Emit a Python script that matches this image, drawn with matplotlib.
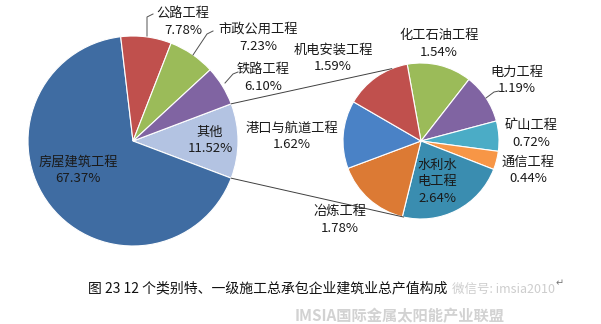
import numpy as np
import matplotlib.pyplot as plt

plt.rcParams['font.family'] = ['Noto Sans CJK SC', 'DejaVu Sans']

# 主饼图：各类别占比 (%)
main_names = ['其他', '房屋建筑工程', '公路工程', '市政公用工程', '铁路工程']
main_vals = [11.52, 67.37, 7.78, 7.23, 6.10]
main_colors = ['#b3c3e2', '#3f6ca2', '#c0504d', '#9bbb59', '#8064a2']

# 子饼图：“其他”的细分
sub_names = ['化工石油工程', '电力工程', '矿山工程', '通信工程',
             '水利水\n电工程', '冶炼工程', '港口与航道工程', '机电安装工程']
sub_vals = [1.54, 1.19, 0.72, 0.44, 2.64, 1.78, 1.62, 1.59]
sub_colors = ['#9bbb59', '#8064a2', '#4bacc6', '#f79646',
              '#3a8db0', '#dc7a34', '#4a82c6', '#c0504d']

W, H = 601, 324
fig = plt.figure(figsize=(W / 100, H / 100), dpi=100)
ax = fig.add_axes([0, 0, 1, 1])

c1, r1 = (133, H - 141), 105
c2, r2 = (421, H - 141), 78

start1 = main_vals[0] / sum(main_vals) * 360 / 2
ax.pie(main_vals, colors=main_colors, startangle=start1, counterclock=False,
       center=c1, radius=r1, frame=True,
       wedgeprops=dict(edgecolor='white', linewidth=0.8))
ax.pie(sub_vals, colors=sub_colors, startangle=100.2, counterclock=False,
       center=c2, radius=r2, frame=True,
       wedgeprops=dict(edgecolor='white', linewidth=0.8))

ax.set_xlim(0, W)
ax.set_ylim(0, H)
ax.set_aspect('equal')
ax.axis('off')


def pt(c, r, deg):
    a = np.radians(deg)
    return c[0] + r * np.cos(a), c[1] + r * np.sin(a)


# 两饼之间的连接线
for a1, a2 in [(start1, 112), (-start1, -103)]:
    p, q = pt(c1, r1, a1), pt(c2, r2, a2)
    ax.plot([p[0], q[0]], [p[1], q[1]], color='#404040', lw=0.7)

fs = 9.5


def label(name, val, x, y, dy=17):
    lines = name.split('\n') + [f'{val:.2f}%']
    for i, s in enumerate(lines):
        ax.text(x, H - (y + i * dy), s, ha='center', va='center',
                fontsize=fs, color='#1a1a1a')


m = dict(zip(main_names, main_vals))
s = dict(zip(sub_names, sub_vals))

label('公路工程', m['公路工程'], 183, 13)
label('市政公用工程', m['市政公用工程'], 258, 29)
label('铁路工程', m['铁路工程'], 263, 70)
label('其他', m['其他'], 210, 132)
label('房屋建筑工程', m['房屋建筑工程'], 78, 162)

label('机电安装工程', s['机电安装工程'], 333, 50)
label('化工石油工程', s['化工石油工程'], 439, 36)
label('电力工程', s['电力工程'], 517, 72)
label('矿山工程', s['矿山工程'], 531, 125)
label('通信工程', s['通信工程'], 528, 162)
label('水利水\n电工程', s['水利水\n电工程'], 437, 165)
label('冶炼工程', s['冶炼工程'], 340, 211)
label('港口与航道工程', s['港口与航道工程'], 292, 128)

# 引导线
leaders = [
    [(147, 36), (147, 17), (153, 14)],
    [(193, 55), (207, 34), (213, 31)],
    [(225, 83), (233, 74), (238, 72)],
    [(486, 98), (494, 92), (499, 91)],
]
for seg in leaders:
    xs = [p[0] for p in seg]
    ys = [H - p[1] for p in seg]
    ax.plot(xs, ys, color='#505050', lw=0.7)

# 图题及水印
ax.text(268, H - 288, '图 23 12 个类别特、一级施工总承包企业建筑业总产值构成',
        ha='center', va='center', fontsize=10, color='#111111')
ax.text(452, H - 289, '微信号: imsia2010', ha='left', va='center',
        fontsize=9, color='#c8c8c8', alpha=0.9)
ax.text(400, H - 316, 'IMSIA国际金属太阳能产业联盟', ha='center', va='center',
        fontsize=11, color='#d2d2d2', style='italic', fontweight='bold')
ax.text(560, H - 283, '↵', ha='center', va='center', fontsize=7,
        color='#777777', family='DejaVu Sans')

fig.savefig('out.png', dpi=100, facecolor='white')
